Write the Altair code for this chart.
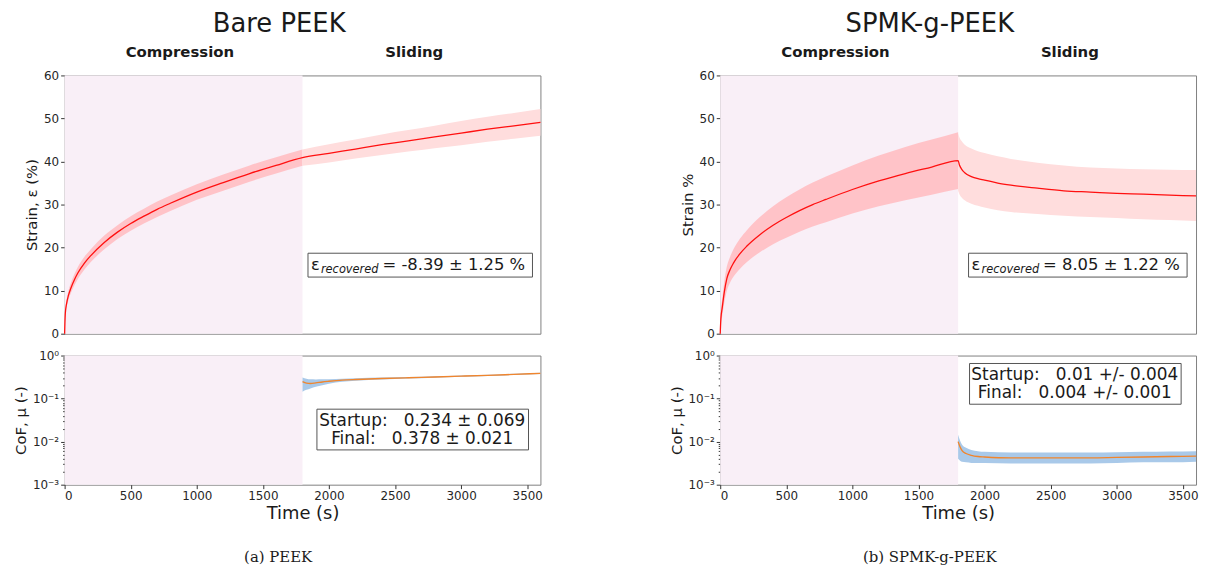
import altair as alt
import pandas as pd

# ---------------- data ----------------
T_COMP = [0, 5, 15, 30, 50, 75, 100, 150, 200, 300, 400, 500, 600, 700, 800, 1000, 1200, 1400, 1600, 1800]

# Bare PEEK strain (%)
BARE_C_MEAN = [0, 4.6, 7.0, 9.0, 10.8, 12.6, 14.1, 16.4, 18.2, 21.2, 23.6, 25.6, 27.3, 28.9, 30.3, 32.9, 35.1, 37.2, 39.1, 40.9]
BARE_C_SD = [0, 0.7, 0.9, 1.1, 1.2, 1.3, 1.4, 1.5, 1.5, 1.6, 1.6, 1.7, 1.7, 1.8, 1.8, 1.8, 1.9, 1.9, 1.9, 1.9]
T_BARE_S = [1800, 2000, 2200, 2400, 2600, 2800, 3000, 3200, 3400, 3600]
BARE_S_MEAN = [40.9, 41.9, 42.9, 43.9, 44.8, 45.7, 46.6, 47.5, 48.3, 49.1]
BARE_S_SD = [1.9, 2.1, 2.2, 2.4, 2.5, 2.6, 2.8, 2.9, 3.0, 3.1]

# SPMK-g-PEEK strain (%)
SPMK_C_MEAN = [0, 3.5, 6.0, 9.5, 12.8, 14.9, 16.4, 18.6, 20.3, 23.0, 25.2, 27.0, 28.6, 30.0, 31.2, 33.5, 35.5, 37.2, 38.7, 40.2]
SPMK_C_SD = [0, 1.5, 2.0, 2.5, 2.8, 3.0, 3.2, 3.5, 3.7, 4.1, 4.4, 4.7, 4.9, 5.1, 5.3, 5.6, 5.9, 6.2, 6.4, 6.6]
T_SPMK_S = [1800, 1810, 1825, 1850, 1900, 1950, 2000, 2100, 2200, 2400, 2600, 2800, 3000, 3200, 3400, 3600]
SPMK_S_MEAN = [40.2, 39.2, 38.3, 37.4, 36.5, 36.0, 35.7, 35.0, 34.5, 33.8, 33.2, 32.9, 32.6, 32.4, 32.2, 32.0]
SPMK_S_HI = [46.5, 45.6, 44.8, 43.9, 43.0, 42.4, 42.0, 41.2, 40.6, 39.7, 39.1, 38.6, 38.4, 38.2, 38.1, 38.0]
SPMK_S_LO = [33.2, 32.4, 31.7, 31.0, 30.2, 29.7, 29.3, 28.7, 28.3, 27.8, 27.4, 27.1, 26.9, 26.6, 26.4, 26.2]

# Coefficient of friction
T_BARE_COF = [1800, 1830, 1860, 1900, 1950, 2000, 2100, 2200, 2400, 2600, 2800, 3000, 3200, 3400, 3600]
BARE_COF = [0.247, 0.228, 0.225, 0.232, 0.243, 0.252, 0.268, 0.278, 0.292, 0.305, 0.318, 0.332, 0.347, 0.365, 0.385]
BARE_COF_LO = [0.145, 0.16, 0.172, 0.188, 0.205, 0.222, 0.245, 0.26, 0.278, 0.293, 0.306, 0.32, 0.335, 0.352, 0.372]
BARE_COF_HI = [0.31, 0.29, 0.28, 0.278, 0.28, 0.283, 0.29, 0.296, 0.307, 0.318, 0.331, 0.345, 0.36, 0.378, 0.398]

T_SPMK_COF = [1800, 1815, 1830, 1860, 1900, 1950, 2000, 2200, 2400, 2600, 2800, 3000, 3200, 3400, 3600]
SPMK_COF = [0.0100, 0.0075, 0.0062, 0.0053, 0.0048, 0.0045, 0.0044, 0.0042, 0.0042, 0.0042, 0.0042, 0.0043, 0.0044, 0.0045, 0.0046]
SPMK_COF_LO = [0.0040, 0.0036, 0.0034, 0.0033, 0.0032, 0.0032, 0.0032, 0.0031, 0.0031, 0.0031, 0.0031, 0.0032, 0.0033, 0.0033, 0.0034]
SPMK_COF_HI = [0.0145, 0.0105, 0.0085, 0.0072, 0.0064, 0.0060, 0.0058, 0.0056, 0.0056, 0.0056, 0.0056, 0.0057, 0.0058, 0.0059, 0.0060]

COMPRESSION_END = 1800
X_TICKS = [0, 500, 1000, 1500, 2000, 2500, 3000, 3500]
STRAIN_TICKS = [0, 10, 20, 30, 40, 50, 60]
COF_TICKS = [0.001, 0.01, 0.1, 1]
COF_MINOR = [m * d for d in (0.001, 0.01, 0.1) for m in range(2, 10)]

# ---------------- styling ----------------
W, H_TOP, H_BOT = 479, 260, 130
SHADE = "#f9eff7"
FONT = "DejaVu Sans"
TXT = "#1a1a1a"

xs = alt.Scale(domain=[0, 3600], nice=False, zero=False)
ys_strain = alt.Scale(domain=[0, 60], nice=False, zero=False)
ys_cof = alt.Scale(type="log", domain=[0.001, 1], nice=False)

one = pd.DataFrame({"v": [0]})


def txt(text, x, y, size, weight="normal", style="normal", align="left",
        baseline="alphabetic", font=FONT, color=TXT):
    return alt.Chart(one).mark_text(
        text=text, fontSize=size, fontWeight=weight, fontStyle=style,
        align=align, baseline=baseline, font=font, color=color
    ).encode(x=alt.value(x), y=alt.value(y))


def box(x1, x2, y1, y2):
    return alt.Chart(one).mark_rect(fill="white", stroke="#555555", strokeWidth=1).encode(
        x=alt.value(x1), x2=alt.value(x2), y=alt.value(y1), y2=alt.value(y2))


def top_panel(c_mean, c_lo, c_hi, ts, s_mean, s_lo, s_hi, title, ylab, value_txt, bx, bw, title_x):
    xax = alt.Axis(labels=False, ticks=False, title=None, grid=False, domain=False)
    yax = alt.Axis(values=STRAIN_TICKS, title=ylab, grid=False, domain=False)
    band = pd.concat([
        pd.DataFrame({"t": T_COMP, "lo": c_lo, "hi": c_hi, "phase": "c"}),
        pd.DataFrame({"t": ts, "lo": s_lo, "hi": s_hi, "phase": "s"}),
    ])
    line = pd.DataFrame({"t": T_COMP + ts[1:], "m": c_mean + s_mean[1:]})
    shade = alt.Chart(pd.DataFrame({"a": [0], "b": [COMPRESSION_END]})).mark_rect(color=SHADE).encode(
        x=alt.X("a:Q", scale=xs, axis=xax), x2="b:Q", y=alt.value(0), y2=alt.value(H_TOP))
    area = alt.Chart(band).mark_area(interpolate="monotone").encode(
        x=alt.X("t:Q", scale=xs, axis=xax),
        y=alt.Y("lo:Q", scale=ys_strain, axis=yax), y2="hi:Q",
        color=alt.Color("phase:N", scale=alt.Scale(domain=["c", "s"], range=["#ffc3c8", "#ffdddd"]), legend=None))
    ln = alt.Chart(line).mark_line(color="#ff1010", strokeWidth=1.3, interpolate="monotone").encode(
        x=alt.X("t:Q", scale=xs, axis=xax), y=alt.Y("m:Q", scale=ys_strain, axis=yax))
    layers = [shade, area, ln,
              box(bx, bx + bw, 179, 203),
              txt("ε", bx + 3, 196, 16.5),
              txt("recovered", bx + 13, 199, 11.5, style="italic"),
              txt(value_txt, bx + 75, 196, 16.5),
              txt(title, title_x, -52, 26, baseline="middle", align="center"),
              txt("Compression", 116, -24, 15, weight="bold", baseline="middle", align="center"),
              txt("Sliding", 352, -24, 15, weight="bold", baseline="middle", align="center")]
    return alt.layer(*layers).properties(width=W, height=H_TOP)


def bottom_panel(t, m, lo, hi, line1, line2, bx, by, caption, cap_x):
    xax = alt.Axis(values=X_TICKS, format="d", title="Time (s)", grid=False, domain=False,
                   titleFontSize=18, titlePadding=3)
    yax = alt.Axis(values=COF_TICKS, title="CoF, μ (-)", grid=False, domain=False, orient="left",
                   labelExpr="datum.value >= 0.5 ? '10⁰' : datum.value >= 0.05 ? '10⁻¹' : datum.value >= 0.005 ? '10⁻²' : '10⁻³'")
    yminor = alt.Axis(values=COF_MINOR, labels=False, title=None, grid=False, domain=False,
                      tickSize=2, orient="left")
    df = pd.DataFrame({"t": t, "m": m, "lo": lo, "hi": hi})
    shade = alt.Chart(pd.DataFrame({"a": [0], "b": [COMPRESSION_END]})).mark_rect(color=SHADE).encode(
        x=alt.X("a:Q", scale=xs, axis=xax), x2="b:Q", y=alt.value(0), y2=alt.value(H_BOT))
    area = alt.Chart(df).mark_area(color="#a9c9e9", interpolate="monotone").encode(
        x=alt.X("t:Q", scale=xs, axis=xax), y=alt.Y("lo:Q", scale=ys_cof, axis=yminor), y2="hi:Q")
    ln = alt.Chart(df).mark_line(color="#f0852d", strokeWidth=1.4, interpolate="monotone").encode(
        x=alt.X("t:Q", scale=xs, axis=xax), y=alt.Y("m:Q", scale=ys_cof, axis=yax))
    layers = [shade, area, ln,
              box(bx, bx + 213, by, by + 41),
              txt(line1, bx + 106, by + 12, 17, align="center", baseline="middle"),
              txt(line2, bx + 106, by + 30, 17, align="center", baseline="middle"),
              txt(caption, cap_x, 203, 15, align="center", baseline="middle", font="DejaVu Serif")]
    return alt.layer(*layers).resolve_axis(y="independent").properties(width=W, height=H_BOT)


NB = "\u00a0"
bare_top = top_panel(
    BARE_C_MEAN, [a - b for a, b in zip(BARE_C_MEAN, BARE_C_SD)], [a + b for a, b in zip(BARE_C_MEAN, BARE_C_SD)],
    T_BARE_S, BARE_S_MEAN, [a - b for a, b in zip(BARE_S_MEAN, BARE_S_SD)], [a + b for a, b in zip(BARE_S_MEAN, BARE_S_SD)],
    "Bare PEEK", "Strain, ε (%)", "=" + NB + "-8.39" + NB + "±" + NB + "1.25" + NB + "%", 245, 226, 216)
spmk_top = top_panel(
    SPMK_C_MEAN, [a - b for a, b in zip(SPMK_C_MEAN, SPMK_C_SD)], [a + b for a, b in zip(SPMK_C_MEAN, SPMK_C_SD)],
    T_SPMK_S, SPMK_S_MEAN, SPMK_S_LO, SPMK_S_HI,
    "SPMK-g-PEEK", "Strain %", "=" + NB + "8.05" + NB + "±" + NB + "1.22" + NB + "%", 250, 220, 211)

bare_bot = bottom_panel(T_BARE_COF, BARE_COF, BARE_COF_LO, BARE_COF_HI,
                        "Startup:" + NB * 3 + "0.234" + NB + "±" + NB + "0.069",
                        "Final:" + NB * 3 + "0.378" + NB + "±" + NB + "0.021",
                        254, 54, "(a) PEEK", 215)
spmk_bot = bottom_panel(T_SPMK_COF, SPMK_COF, SPMK_COF_LO, SPMK_COF_HI,
                        "Startup:" + NB * 3 + "0.01" + NB + "+/-" + NB + "0.004",
                        "Final:" + NB * 3 + "0.004" + NB + "+/-" + NB + "0.001",
                        251, 8, "(b) SPMK-g-PEEK", 211)

chart = alt.ConcatChart(
    concat=[bare_top, spmk_top, bare_bot, spmk_bot],
    columns=2,
    spacing={"row": 22, "column": 181},
    bounds="flush",
).properties(
    padding={"left": 5, "top": 0, "right": 0, "bottom": 0}
).configure_view(
    stroke="#808080", strokeWidth=1
).configure_axis(
    labelFont=FONT, titleFont=FONT, labelFontSize=12, labelColor="#262626",
    titleFontSize=15, titleFontWeight="normal", titleColor=TXT,
    tickColor="#333333", tickSize=4, labelPadding=2, titlePadding=4
)

chart.save("out.html", embed_options={"renderer": "svg", "actions": False})
